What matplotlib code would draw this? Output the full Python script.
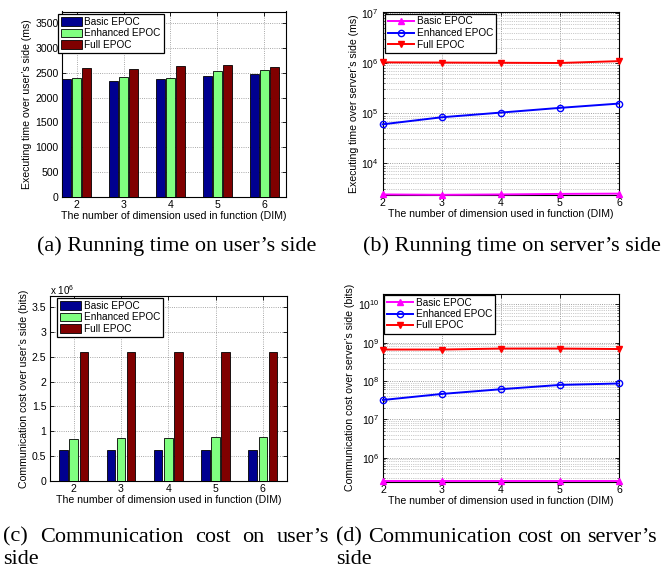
import numpy as np
import matplotlib
matplotlib.use("Agg")
import matplotlib.pyplot as plt
from matplotlib.ticker import FixedLocator, FuncFormatter, LogLocator, NullFormatter
from matplotlib.patches import Patch
from matplotlib.lines import Line2D

plt.rcParams['font.family'] = ['Liberation Sans', 'DejaVu Sans']
plt.rcParams['mathtext.fontset'] = 'custom'
plt.rcParams['mathtext.rm'] = 'Liberation Sans'
plt.rcParams['mathtext.it'] = 'Liberation Sans'

# ---- data ----
dims = [2, 3, 4, 5, 6]
series = ["Basic EPOC", "Enhanced EPOC", "Full EPOC"]

# executing time on the user's side (ms)
user_time_basic = [2380, 2340, 2380, 2440, 2470]
user_time_enh = [2390, 2410, 2400, 2540, 2550]
user_time_full = [2600, 2580, 2630, 2650, 2620]

# executing time on the server's side (ms)
server_time_basic = [2380, 2340, 2380, 2440, 2470]
server_time_enh = [60000, 83000, 103000, 128000, 156000]
server_time_full = [1.04e6, 1.03e6, 1.02e6, 1.01e6, 1.10e6]

# communication cost on the user's side (bits)
user_comm_basic = [0.62e6, 0.62e6, 0.62e6, 0.62e6, 0.62e6]
user_comm_enh = [0.84e6, 0.86e6, 0.87e6, 0.88e6, 0.89e6]
user_comm_full = [2.6e6, 2.6e6, 2.6e6, 2.6e6, 2.6e6]

# communication cost on the server's side (bits)
server_comm_basic = [2.4e5, 2.4e5, 2.4e5, 2.4e5, 2.4e5]
server_comm_enh = [3.2e7, 4.6e7, 6.1e7, 7.9e7, 8.6e7]
server_comm_full = [6.6e8, 6.6e8, 7.0e8, 7.0e8, 6.8e8]

xlabel = "The number of dimension used in function (DIM)"

W, H = 668, 573
fig = plt.figure(figsize=(W / 100, H / 100), dpi=100)


def px_axes(l, r, t, b):
    return fig.add_axes([l / W, 1 - b / H, (r - l) / W, (b - t) / H])


bar_colors = ["#000090", "#80ff80", "#800000"]
line_styles = [dict(color="#ff00ff", marker="^", mfc="#ff00ff"),
               dict(color="#0000ff", marker="o", mfc="none"),
               dict(color="#ff0000", marker="v", mfc="#ff0000")]

TICK_FS = 7.6
LABEL_FS = 7.6
LEG_FS = 7.2


def style_axes(ax):
    ax.tick_params(direction="in", top=True, right=True, labelsize=TICK_FS,
                   length=3, width=0.6, pad=2.5)
    ax.tick_params(which="minor", direction="in", top=True, right=True,
                   length=1.5, width=0.4)
    for s in ax.spines.values():
        s.set_linewidth(0.8)
    ax.set_xlabel(xlabel, fontsize=LABEL_FS, labelpad=0.5)


def bar_panel(ax, vals, xlim, ylim, yticks, ylabel, fmt):
    width, off = 0.18, 0.215
    for i, v in enumerate(vals):
        ax.bar(np.array(dims) + (i - 1) * off, v, width=width,
               color=bar_colors[i], edgecolor="black", linewidth=0.6, zorder=3)
    ax.set_xlim(*xlim)
    ax.set_ylim(*ylim)
    ax.set_xticks(dims)
    ax.yaxis.set_major_locator(FixedLocator(yticks))
    ax.yaxis.set_major_formatter(FuncFormatter(fmt))
    ax.grid(True, linestyle=":", color="0.55", linewidth=0.6, zorder=0)
    ax.set_axisbelow(True)
    style_axes(ax)
    ax.set_ylabel(ylabel, fontsize=LABEL_FS, labelpad=2)


def line_panel(ax, vals, ylim, ylabel):
    for i, v in enumerate(vals):
        st = line_styles[i]
        ax.plot(dims, v, color=st["color"], marker=st["marker"],
                mfc=st["mfc"], mec=st["color"], markersize=4.5,
                linewidth=1.4, mew=1.0, clip_on=False, zorder=4)
    ax.set_yscale("log")
    ax.set_xlim(2, 6)
    ax.set_ylim(*ylim)
    ax.set_xticks(dims)
    ax.yaxis.set_major_locator(LogLocator(base=10, numticks=20))
    ax.yaxis.set_minor_locator(LogLocator(base=10, subs=np.arange(2, 10), numticks=100))
    ax.yaxis.set_minor_formatter(NullFormatter())
    ax.grid(True, which="major", linestyle=":", color="0.5", linewidth=0.6, zorder=0)
    ax.grid(True, which="minor", axis="y", linestyle=":", color="0.6",
            linewidth=0.5, zorder=0)
    style_axes(ax)
    ax.set_ylabel(ylabel, fontsize=LABEL_FS, labelpad=2)


def add_legend(ax, handles, x_px, y_px, hl, hh):
    leg = ax.legend(handles, series, loc="upper left",
                    bbox_to_anchor=(x_px / W, 1 - y_px / H),
                    bbox_transform=fig.transFigure, borderaxespad=0,
                    fontsize=LEG_FS, frameon=True, fancybox=False,
                    edgecolor="black", framealpha=1, handlelength=hl,
                    handleheight=hh, handletextpad=0.3, labelspacing=0.15,
                    borderpad=0.3)
    leg.get_frame().set_linewidth(0.9)
    leg.set_zorder(10)
    return leg


bar_handles = [Patch(facecolor=c, edgecolor="black", linewidth=0.6) for c in bar_colors]
line_handles = [Line2D([], [], color=s["color"], marker=s["marker"], mfc=s["mfc"],
                       mec=s["color"], markersize=4.5, linewidth=1.4)
                for s in line_styles]

# (a) running time on the user's side
ax_a = px_axes(62, 286, 11.5, 197)
bar_panel(ax_a, [user_time_basic, user_time_enh, user_time_full],
          (1.69, 6.46), (0, 3730), np.arange(0, 3501, 500),
          "Executing time over user\u2019s side (ms)", lambda v, p: "%d" % v)
add_legend(ax_a, bar_handles, 57.5, 14, 2.1, 0.95)

# (b) running time on the server's side
ax_b = px_axes(382.5, 619, 11.5, 195)
line_panel(ax_b, [server_time_basic, server_time_enh, server_time_full],
           (2320, 1.08e7), "Executing time over server\u2019s side (ms)")
add_legend(ax_b, line_handles, 385, 13.5, 2.6, 0.7)

# (c) communication cost on the user's side
ax_c = px_axes(50, 286.5, 296, 481)
bar_panel(ax_c, [user_comm_basic, user_comm_enh, user_comm_full],
          (1.5, 6.5), (0, 3.72e6), np.arange(0, 3.51e6, 0.5e6),
          "Communication cost over user\u2019s side (bits)",
          lambda v, p: "%g" % (v / 1e6))
fig.text(50 / W, 1 - 290 / H, r"x 10$^6$", fontsize=TICK_FS - 0.5,
         ha="left", va="center")
add_legend(ax_c, bar_handles, 56.5, 298, 2.1, 0.95)

# (d) communication cost on the server's side
ax_d = px_axes(383, 619, 294, 481.5)
line_panel(ax_d, [server_comm_basic, server_comm_enh, server_comm_full],
           (2.4e5, 1.85e10), "Communication cost over server\u2019s side (bits)")
add_legend(ax_d, line_handles, 384, 294.5, 2.6, 0.7)

# ---- captions ----
CAP_FONT = dict(family=["Liberation Serif", "DejaVu Serif"], fontsize=16.0)
fig.text(176.5 / W, 1 - 246 / H, "(a) Running time on user\u2019s side",
         ha="center", va="center", **CAP_FONT)
fig.text(511.5 / W, 1 - 246 / H, "(b) Running time on server\u2019s side",
         ha="center", va="center", **CAP_FONT)

renderer = fig.canvas.get_renderer()


def justified_line(words, x0, x1, y):
    texts = [fig.text(0, 1 - y / H, w, ha="left", va="center", **CAP_FONT)
             for w in words]
    widths = [t.get_window_extent(renderer).width for t in texts]
    gap = (x1 - x0 - sum(widths)) / (len(words) - 1)
    x = x0
    for t, w in zip(texts, widths):
        t.set_x(x / W)
        x += w + gap


justified_line(["(c)", "Communication", "cost", "on", "user\u2019s"], 3, 329, 537)
fig.text(3 / W, 1 - 560 / H, "side", ha="left", va="center", **CAP_FONT)
justified_line(["(d)", "Communication", "cost", "on", "server\u2019s"], 336, 657, 537)
fig.text(336 / W, 1 - 560 / H, "side", ha="left", va="center", **CAP_FONT)

fig.savefig("out.png", dpi=100)
